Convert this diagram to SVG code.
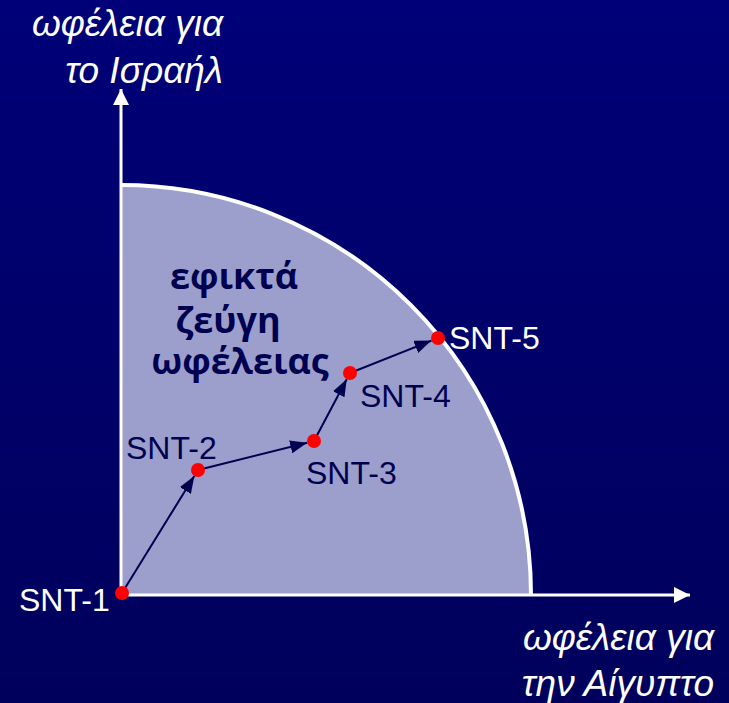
<svg xmlns="http://www.w3.org/2000/svg" width="729" height="703" viewBox="0 0 729 703">
<defs>
<linearGradient id="bg" x1="0" y1="0" x2="0" y2="1">
<stop offset="0" stop-color="#000078"/>
<stop offset="1" stop-color="#00005c"/>
</linearGradient>
<marker id="ah" markerUnits="userSpaceOnUse" markerWidth="18" markerHeight="14" refX="17" refY="6.5" orient="auto">
<path d="M0,0 L17,6.5 L0,13 z" fill="#000050"/>
</marker>
<marker id="axh" markerUnits="userSpaceOnUse" markerWidth="16" markerHeight="16" refX="16" refY="8" orient="auto">
<path d="M0,0 L16,8 L0,16 z" fill="#ffffff"/>
</marker>
<style>
.axis{stroke:#ffffff;stroke-width:3;fill:none}
.conn{stroke:#000050;stroke-width:2;fill:none}
.dot{fill:#ff0000}
.lbl{font-family:"Liberation Sans",Arial,sans-serif;font-size:32px;fill:#000050}
.ax{font-family:"Liberation Sans",Arial,sans-serif;font-size:37px;font-style:italic;fill:#ffffff}
.region{font-family:"Open Sans","DejaVu Sans",sans-serif;font-size:36px;font-weight:bold;fill:#000050}
</style>
</defs>
<rect width="729" height="703" fill="url(#bg)"/>
<g id="region">
<path d="M121,595 L121,185 A410,410 0 0 1 531,595 Z" fill="#9c9fcc"/>
<path d="M121,185 A410,410 0 0 1 531,595" fill="none" stroke="#ffffff" stroke-width="4"/>
<text class="region" text-anchor="middle" x="234" y="289">εφικτά</text>
<text class="region" text-anchor="middle" x="228" y="333">ζεύγη</text>
<text class="region" text-anchor="middle" x="240" y="374">ωφέλειας</text>
</g>
<g id="axes">
<line class="axis" x1="121" y1="596" x2="121" y2="89" marker-end="url(#axh)"/>
<line class="axis" x1="120" y1="595" x2="690" y2="595" marker-end="url(#axh)"/>
<text class="ax" text-anchor="end" x="223" y="36">ωφέλεια για</text>
<text class="ax" text-anchor="end" x="223" y="83">το Ισραήλ</text>
<text class="ax" text-anchor="end" x="714" y="650">ωφέλεια για</text>
<text class="ax" text-anchor="end" x="714" y="696">την Αίγυπτο</text>
</g>
<g id="connectors">
<line class="conn" x1="122" y1="593" x2="194.3" y2="476" marker-end="url(#ah)"/>
<line class="conn" x1="198" y1="470" x2="307.2" y2="442.7" marker-end="url(#ah)"/>
<line class="conn" x1="314" y1="441" x2="346.7" y2="379.2" marker-end="url(#ah)"/>
<line class="conn" x1="350" y1="373" x2="431.5" y2="340.6" marker-end="url(#ah)"/>
</g>
<g id="snt1"><circle class="dot" cx="122" cy="593" r="7"/><text class="lbl" x="19" y="611" style="fill:#ffffff">SNT-1</text></g>
<g id="snt2"><circle class="dot" cx="198" cy="470" r="7"/><text class="lbl" x="126" y="459">SNT-2</text></g>
<g id="snt3"><circle class="dot" cx="314" cy="441" r="7"/><text class="lbl" x="306" y="484">SNT-3</text></g>
<g id="snt4"><circle class="dot" cx="350" cy="373" r="7"/><text class="lbl" x="360" y="407">SNT-4</text></g>
<g id="snt5"><circle class="dot" cx="438" cy="338" r="7"/><text class="lbl" x="449" y="349" style="fill:#ffffff">SNT-5</text></g>
</svg>
